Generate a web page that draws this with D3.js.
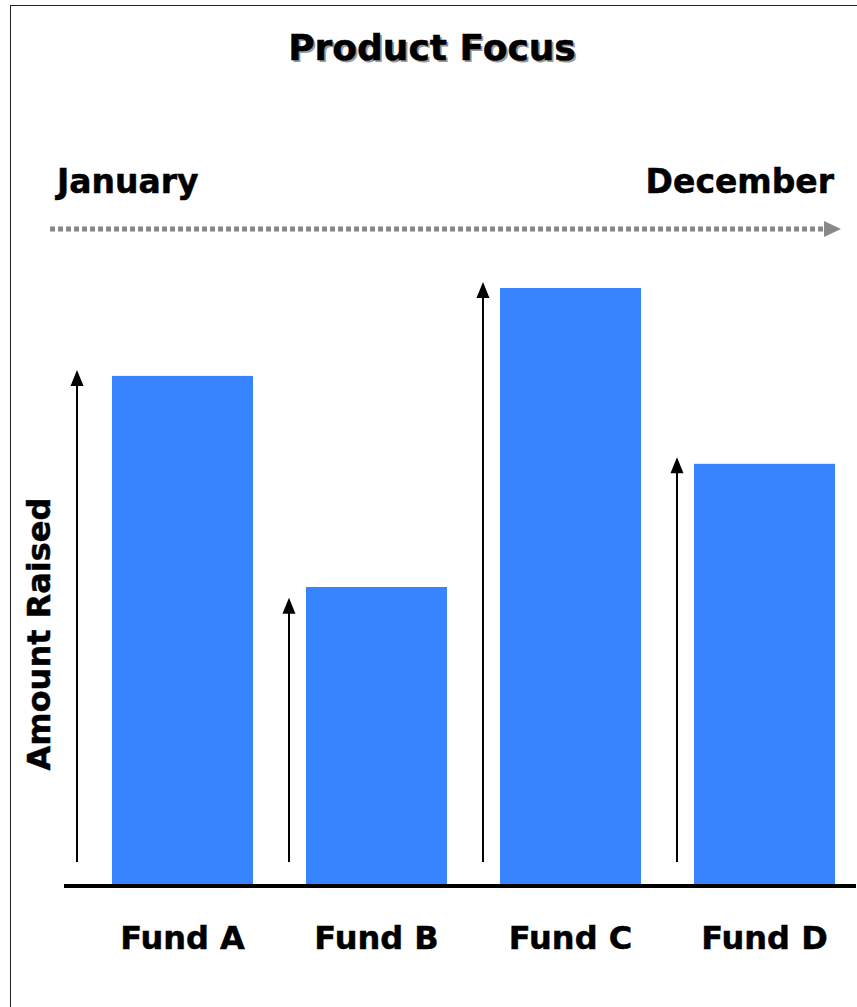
<!DOCTYPE html>
<html>
<head>
<meta charset="utf-8">
<script src="https://cdn.jsdelivr.net/npm/d3@7/dist/d3.min.js"></script>
<style>
  html, body { margin: 0; padding: 0; background: #fff; }
  svg { display: block; }
  text { font-family: "DejaVu Sans", "Open Sans", sans-serif; font-weight: 700; fill: #000; }
</style>
</head>
<body>
<script>
const categories = ["Fund A", "Fund B", "Fund C", "Fund D"];
const amountRaised = [85.3, 50, 100, 70.6];
const arrowTops = [86.3, 48.2, 101, 71.7];
const arrowBase = 4;
const title = "Product Focus";
const timeStart = "January";
const timeEnd = "December";
const yLabel = "Amount Raised";

const W = 857, H = 1007;
const svg = d3.select("body").append("svg").attr("width", W).attr("height", H);

// frame
svg.append("rect").attr("x", 10.5).attr("y", 5.5).attr("width", W + 20).attr("height", H + 20)
  .attr("fill", "none").attr("stroke", "#222").attr("stroke-width", 1);

const baseY = 886;
const y = d3.scaleLinear().domain([0, 100]).range([baseY, 288]);
const x = d3.scaleBand().domain(categories).range([59, 888]).paddingInner(0.273).paddingOuter(0.273);

const heavy = sel => sel.style("stroke", "#000").style("stroke-width", 0.5);

// title with shadow
svg.append("text").attr("x", 434).attr("y", 62).attr("text-anchor", "middle")
  .attr("font-size", 36).style("fill", "#999").text(title);
svg.append("text").attr("x", 432).attr("y", 60).attr("text-anchor", "middle")
  .attr("font-size", 36).text(title).call(heavy);

// time labels
svg.append("text").attr("x", 57).attr("y", 193).attr("font-size", 33).text(timeStart).call(heavy);
svg.append("text").attr("x", 834).attr("y", 193).attr("text-anchor", "end").attr("font-size", 33).text(timeEnd).call(heavy);

// dotted timeline arrow
svg.append("line").attr("x1", 50).attr("x2", 826).attr("y1", 229).attr("y2", 229)
  .attr("stroke", "#888").attr("stroke-width", 5).attr("stroke-dasharray", "5,3");
svg.append("path").attr("d", "M824,221 L841,229 L824,237 Z").attr("fill", "#888");

// bars
svg.selectAll("rect.bar").data(categories).join("rect").attr("class", "bar")
  .attr("x", d => x(d)).attr("width", x.bandwidth())
  .attr("y", (d, i) => y(amountRaised[i]))
  .attr("height", (d, i) => baseY - y(amountRaised[i]))
  .attr("fill", "#3884FF");

// baseline
svg.append("line").attr("x1", 64).attr("x2", 856).attr("y1", baseY).attr("y2", baseY)
  .attr("stroke", "#000").attr("stroke-width", 4);

// growth arrows
const arrowX = (d, i) => i === 0 ? 77 : x(d) - 17;
const ag = svg.selectAll("g.arrow").data(categories).join("g").attr("class", "arrow");
ag.append("line")
  .attr("x1", arrowX).attr("x2", arrowX)
  .attr("y1", y(arrowBase)).attr("y2", (d, i) => y(arrowTops[i]) + 12)
  .attr("stroke", "#000").attr("stroke-width", 2);
ag.append("path")
  .attr("d", (d, i) => {
    const ax = arrowX(d, i), ty = y(arrowTops[i]);
    return `M${ax},${ty} L${ax + 6.5},${ty + 16} L${ax - 6.5},${ty + 16} Z`;
  })
  .attr("fill", "#000");

// category labels
svg.selectAll("text.cat").data(categories).join("text").attr("class", "cat")
  .attr("x", d => x(d) + x.bandwidth() / 2).attr("y", 949)
  .attr("text-anchor", "middle").attr("font-size", 32).text(d => d).call(heavy);

// y label
svg.append("text").attr("transform", "translate(50,634) rotate(-90)")
  .attr("text-anchor", "middle").attr("font-size", 32).text(yLabel).call(heavy);
</script>
</body>
</html>
